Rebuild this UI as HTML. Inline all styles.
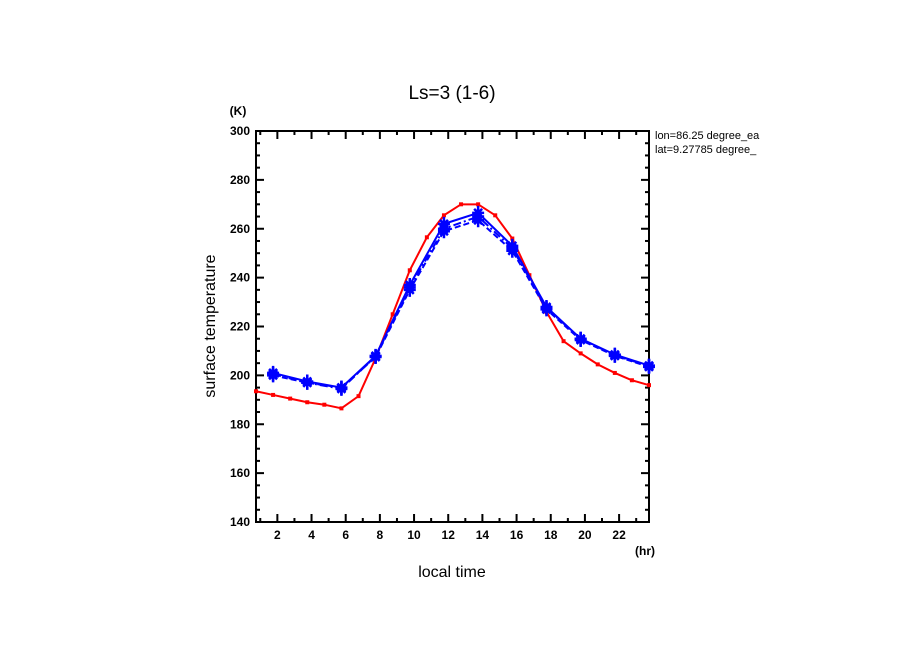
<!DOCTYPE html>
<html><head><meta charset="utf-8"><style>
body{margin:0;background:#fff}
svg{display:block;font-family:"Liberation Sans",sans-serif}
</style></head><body>
<svg id="chart" width="904" height="654" xmlns="http://www.w3.org/2000/svg">
<text x="452" y="99" font-size="19" text-anchor="middle">Ls=3 (1-6)</text>
<text x="238" y="115" font-size="12" font-weight="bold" text-anchor="middle">(K)</text>
<text x="645" y="555" font-size="12" font-weight="bold" text-anchor="middle">(hr)</text>
<text transform="translate(215,326) rotate(-90)" font-size="16" text-anchor="middle">surface temperature</text>
<text x="452" y="577" font-size="16" text-anchor="middle">local time</text>
<text x="655" y="139" font-size="11">lon=86.25 degree_ea</text>
<text x="655" y="153" font-size="11">lat=9.27785 degree_</text>
<g id="axes"></g>
<g id="series"></g>
<rect x="778" y="125" width="40" height="35" fill="#fff"/>
</svg>
<script>
const redHours=[0.75,1.75,2.75,3.75,4.75,5.75,6.75,7.75,8.75,9.75,10.75,11.75,12.75,13.75,14.75,15.75,16.75,17.75,18.75,19.75,20.75,21.75,22.75,23.75];
const redValues=[193.5,192,190.5,189,188,186.5,191.5,207,225,243,256.5,265.5,270,270,265.5,256,241,226,214,209,204.5,201,198,196];
const blueHours=[1.75,3.75,5.75,7.75,9.75,11.75,13.75,15.75,17.75,19.75,21.75,23.75];
const blueSolid=[201,197.5,195,208,237,262,266.5,253,228,215,208.5,204];
const blueDashed=[200,197,195,207.5,235,259,263.5,251,227,214.5,208,203.5];
const blueDashDot=[200.5,197,194.5,207.8,236,260,265,252,227.5,215,208.2,203.8];
const yTicks=[140,160,180,200,220,240,260,280,300];
const xTicks=[2,4,6,8,10,12,14,16,18,20,22];

const L=256,R=649,T=131,B=522,X0=0.75,X1=23.75,Y0=140,Y1=300;
const sx=h=>L+(h-X0)/(X1-X0)*(R-L);
const sy=v=>B-(v-Y0)/(Y1-Y0)*(B-T);
const NS="http://www.w3.org/2000/svg";
function mk(tag,attrs,parent){const e=document.createElementNS(NS,tag);for(const k in attrs)e.setAttribute(k,attrs[k]);parent.appendChild(e);return e;}
const ax=document.getElementById('axes'),sr=document.getElementById('series');
const frame=mk('rect',{x:L,y:T,width:R-L,height:B-T,fill:'none',stroke:'#000','stroke-width':2},ax);


// y ticks
for(let v=Y0;v<=Y1;v+=5){const y=sy(v);const maj=(v%20===0);const len=maj?8:4;
 mk('line',{x1:L,x2:L+len,y1:y,y2:y,stroke:'#000','stroke-width':2},ax);
 mk('line',{x1:R,x2:R-len,y1:y,y2:y,stroke:'#000','stroke-width':2},ax);}
yTicks.forEach(v=>{const t=mk('text',{x:L-6,y:sy(v)+4,'font-size':12,'font-weight':'bold','text-anchor':'end'},ax);t.textContent=v;
 
 });
for(let h=1;h<=23;h++){const x=sx(h);const maj=(h%2===0);const len=maj?8:4;
 mk('line',{x1:x,x2:x,y1:B,y2:B-len,stroke:'#000','stroke-width':2},ax);
 mk('line',{x1:x,x2:x,y1:T,y2:T+len,stroke:'#000','stroke-width':2},ax);}
xTicks.forEach(h=>{const t=mk('text',{x:sx(h),y:B+17,'font-size':12,'font-weight':'bold','text-anchor':'middle'},ax);t.textContent=h;
 
 });
function line(hours,vals,color,dash,name,marker){
 const g=mk('g',{},sr);
 
 
 const pts=hours.map((h,i)=>sx(h)+','+sy(vals[i])).join(' ');
 const a={points:pts,fill:'none',stroke:color,'stroke-width':2};if(dash)a['stroke-dasharray']=dash;
 mk('polyline',a,g);
 hours.forEach((h,i)=>{const x=sx(h),y=sy(vals[i]);
  if(marker==='dot'){const m=mk('rect',{x:x-2,y:y-2,width:4,height:4,fill:color},g);
   
   }
  else{const p=mk('path',{d:`M${x-6},${y}H${x+6}M${x},${y-7}V${y+7}M${x-4},${y-4}L${x+4},${y+4}M${x-4},${y+4}L${x+4},${y-4}`,stroke:color,'stroke-width':2.5},g);
   
   }});
}
line(redHours,redValues,'#ff0000',null,'red-series','dot');
line(blueHours,blueDashed,'#0000ff','6,3','blue-dashed-series','star');
line(blueHours,blueDashDot,'#0000ff','8,3,2,3','blue-dashdot-series','star');
line(blueHours,blueSolid,'#0000ff',null,'blue-solid-series','star');
</script>
</body></html>
